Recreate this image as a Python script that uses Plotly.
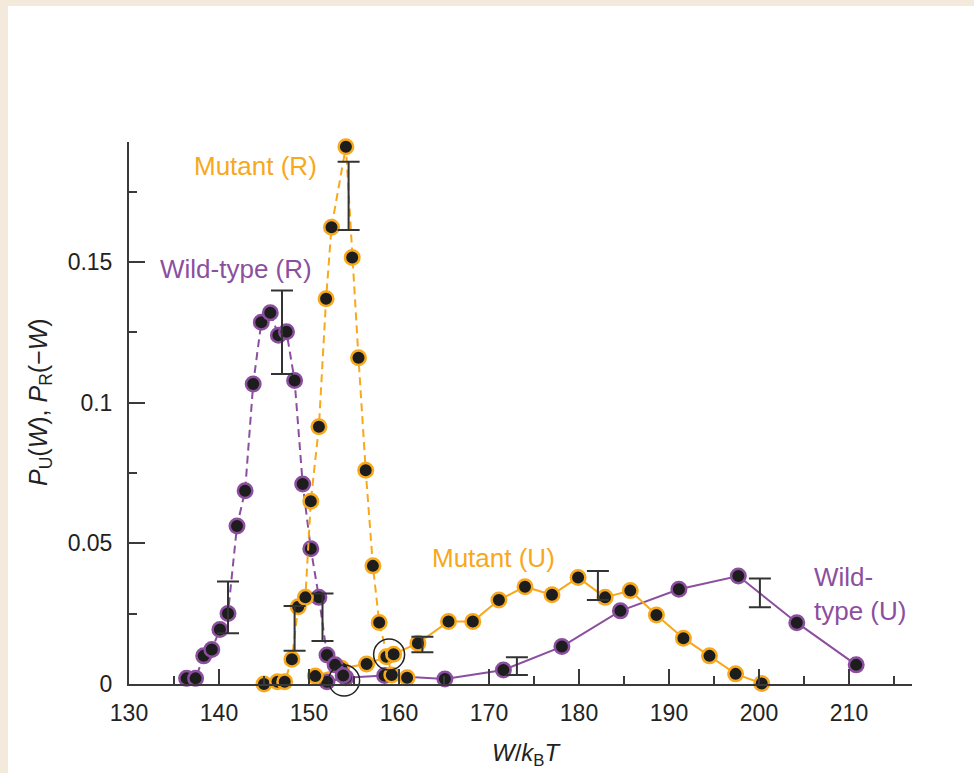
import plotly.graph_objects as go

# ---------------- data ----------------
wt_r_x = [136.4, 137.4, 138.3, 139.2, 140.1, 141.0, 142.0, 142.9, 143.8, 144.7, 145.7, 146.6,
          147.5, 148.4, 149.3, 150.2, 151.1, 152.0, 152.9, 153.8]
wt_r_y = [0.002, 0.002, 0.010, 0.0123, 0.0194, 0.0251, 0.0562, 0.0687, 0.1067, 0.1286, 0.132, 0.124,
          0.1252, 0.1079, 0.0711, 0.0481, 0.0308, 0.0103, 0.0068, 0.0030]

mut_r_x = [145.0, 146.5, 147.3, 148.1, 148.8, 149.6, 150.2, 151.1, 151.9, 152.5, 154.1, 154.8,
           155.5, 156.3, 157.1, 157.8, 159.2, 160.9]
mut_r_y = [0.0, 0.0008, 0.0008, 0.0088, 0.0275, 0.0308, 0.065, 0.0915, 0.137, 0.1624, 0.191, 0.1516,
           0.116, 0.076, 0.042, 0.0219, 0.0032, 0.0022]

mut_u_x = [150.7, 153.6, 156.4, 158.6, 159.4, 162.1, 165.5, 168.2, 171.1, 174.0, 177.0, 179.9,
           182.9, 185.7, 188.6, 191.6, 194.5, 197.4, 200.3]
mut_u_y = [0.0028, 0.0056, 0.0071, 0.0097, 0.0106, 0.0145, 0.0222, 0.0222, 0.0299, 0.0346, 0.0317, 0.0379,
           0.0308, 0.0332, 0.0245, 0.0163, 0.010, 0.0036, 0.0002]

wt_u_x = [152.0, 154.1, 158.4, 165.1, 171.6, 178.1, 184.6, 191.1, 197.7, 204.2, 210.8]
wt_u_y = [0.0008, 0.0022, 0.0030, 0.0018, 0.005, 0.0133, 0.026, 0.0337, 0.0384, 0.0218, 0.0068]

err_x = [141.0, 148.4, 151.5, 147.0, 154.4, 162.6, 173.1, 182.1, 200.1]
err_lo = [0.018, 0.0118, 0.0153, 0.1102, 0.1614, 0.0113, 0.0032, 0.0299, 0.0273]
err_hi = [0.0364, 0.0277, 0.0322, 0.1399, 0.1857, 0.0168, 0.0095, 0.0402, 0.0375]

highlight_x = [153.9, 158.9]
highlight_y = [0.0012, 0.0105]

x_ticks = [130, 140, 150, 160, 170, 180, 190, 200, 210]
y_ticks = [0, 0.05, 0.1, 0.15]
y_tick_text = ["0", "0.05", "0.1", "0.15"]

labels = ["Mutant (R)", "Wild-type (R)", "Mutant (U)", "Wild-<br>type (U)"]
label_x = [144.0, 141.9, 170.5, 205.9]
label_y = [0.1842, 0.1476, 0.0448, 0.0320]

# ---------------- styling ----------------
ORANGE = "#F7A81B"
PURPLE = "#8C4F9F"
DOT = "#1d1d1d"
AX = "#3a3a3a"
FONT = "Liberation Sans, Arial, Helvetica, sans-serif"

fig = go.Figure()

def series(x, y, color, dash):
    fig.add_trace(go.Scatter(
        x=x, y=y, mode="lines+markers", cliponaxis=False,
        line=dict(color=color, width=2, dash=dash),
        marker=dict(size=14.5, color=DOT, line=dict(color=color, width=2.5)),
        showlegend=False, hoverinfo="skip"))

series(wt_u_x, wt_u_y, PURPLE, "solid")
series(mut_u_x, mut_u_y, ORANGE, "solid")
series(wt_r_x, wt_r_y, PURPLE, "8px,5px")
series(mut_r_x, mut_r_y, ORANGE, "8px,5px")

mid = [(a + b) / 2 for a, b in zip(err_lo, err_hi)]
fig.add_trace(go.Scatter(
    x=err_x, y=mid, mode="markers", cliponaxis=False,
    marker=dict(size=1, color="rgba(0,0,0,0)"),
    error_y=dict(type="data", symmetric=False,
                 array=[h - m for h, m in zip(err_hi, mid)],
                 arrayminus=[m - l for m, l in zip(mid, err_lo)],
                 color="#333333", thickness=2, width=11),
    showlegend=False, hoverinfo="skip"))

fig.add_trace(go.Scatter(
    x=highlight_x, y=highlight_y, mode="markers", cliponaxis=False,
    marker=dict(symbol="circle-open", size=31, color="#222222", line=dict(width=1.5)),
    showlegend=False, hoverinfo="skip"))

colors = [ORANGE, PURPLE, ORANGE, PURPLE]
for t, x, y, c in zip(labels, label_x, label_y, colors):
    multi = "<br>" in t
    fig.add_annotation(x=x, y=y, text=t, showarrow=False,
                       xanchor="left" if multi else "center", yanchor="middle",
                       align="left",
                       font=dict(family=FONT, size=26, color=c))

# axis titles
fig.add_annotation(xref="paper", yref="paper", x=(40 - 129) / 783, y=(684 - 402) / 542,
                   text="<i>P</i><sub>U</sub>(<i>W</i>), <i>P</i><sub>R</sub>(\u2212<i>W</i>)",
                   textangle=-90, showarrow=False, xanchor="center", yanchor="middle",
                   font=dict(family=FONT, size=25, color="#222"))
fig.add_annotation(xref="paper", yref="paper", x=(527 - 129) / 783, y=(684 - 754) / 542,
                   text="<i>W</i>/<i>k</i><sub>B</sub><i>T</i>",
                   showarrow=False, xanchor="center", yanchor="middle",
                   font=dict(family=FONT, size=24, color="#222"))

# white panel on beige page
fig.add_shape(type="rect", xref="paper", yref="paper", layer="below",
              x0=(8 - 129) / 783, x1=(974 - 129) / 783,
              y0=(684 - 773) / 542, y1=(684 - 6) / 542,
              fillcolor="white", line=dict(width=0))

fig.update_layout(
    width=974, height=773,
    margin=dict(l=129, r=62, t=142, b=89, autoexpand=False),
    paper_bgcolor="#F3EADC", plot_bgcolor="white",
    xaxis=dict(range=[130, 217], showline=True, linecolor=AX, linewidth=2,
               ticks="inside", ticklen=15, tickwidth=2, tickcolor=AX,
               tickvals=x_ticks, showgrid=False, zeroline=False,
               minor=dict(ticks="inside", ticklen=8, tickwidth=2, tickcolor=AX,
                          dtick=5, tick0=130, showgrid=False),
               tickfont=dict(family=FONT, size=23, color="#222"), ticklabelstandoff=7),
    yaxis=dict(range=[0, 0.1927], showline=True, linecolor=AX, linewidth=2,
               ticks="inside", ticklen=16, tickwidth=2, tickcolor=AX,
               tickvals=y_ticks, ticktext=y_tick_text, showgrid=False, zeroline=False,
               minor=dict(ticks="inside", ticklen=8, tickwidth=2, tickcolor=AX,
                          dtick=0.025, tick0=0, showgrid=False),
               tickfont=dict(family=FONT, size=23, color="#222"), ticklabelstandoff=10),
)

fig.write_html("out.html")
